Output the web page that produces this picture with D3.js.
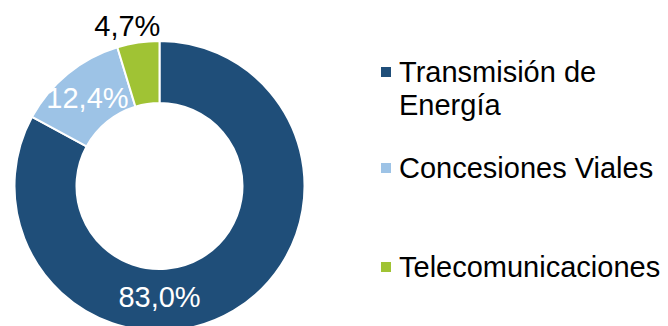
<!DOCTYPE html>
<html>
<head>
<meta charset="utf-8">
<script src="https://cdn.jsdelivr.net/npm/d3@7/dist/d3.min.js"></script>
<style>
  html, body { margin: 0; padding: 0; background: #fff; }
  svg { display: block; }
  text { font-family: "Liberation Sans", Arial, sans-serif; }
</style>
</head>
<body>
<svg id="chart" width="668" height="326"></svg>
<script>
// Segment shares (%) by business line
const categories = ["Transmisión de Energía", "Concesiones Viales", "Telecomunicaciones"];
const legendLines = [["Transmisión de", "Energía"], ["Concesiones Viales"], ["Telecomunicaciones"]];
const values = [83.0, 12.4, 4.7];
const valueLabels = ["83,0%", "12,4%", "4,7%"];
const colors = ["#1F4E79", "#9DC3E6", "#A0C334"];

const svg = d3.select("#chart");
const cx = 159.5, cy = 186, outerR = 145, innerR = 83;
const fontSize = 29;

const pie = d3.pie().sort(null).value(d => d)(values);
const arc = d3.arc().innerRadius(innerR).outerRadius(outerR);

const g = svg.append("g").attr("transform", `translate(${cx},${cy})`);

g.selectAll("path.slice")
  .data(pie)
  .join("path")
  .attr("class", "slice")
  .attr("d", arc)
  .attr("fill", (d, i) => colors[i])
  .attr("stroke", "#fff")
  .attr("stroke-width", 2)
  .attr("stroke-linejoin", "miter");

// Label placement: angle (radians, clockwise from top) and radius for each slice label
function labelPos(d, i) {
  const mid = (d.startAngle + d.endAngle) / 2;
  if (i === 0) return { a: Math.PI, r: 111 };            // large slice: label at the bottom of the ring
  if (i === 1) return { a: mid, r: (innerR + outerR) / 2 }; // inside the ring at the centroid
  return { a: mid - 0.05, r: 164 };                         // small slice: label outside
}

g.selectAll("text.val")
  .data(pie)
  .join("text")
  .attr("class", "val")
  .each(function (d, i) {
    const p = labelPos(d, i);
    d3.select(this)
      .attr("x", Math.sin(p.a) * p.r)
      .attr("y", -Math.cos(p.a) * p.r)
      .attr("dy", "0.36em");
  })
  .attr("text-anchor", "middle")
  .attr("font-size", fontSize)
  .attr("fill", (d, i) => i === 2 ? "#000" : "#fff")
  .text((d, i) => valueLabels[i]);

// Legend
const legendX = 381, textX = 399;
const legendBaselines = [82, 178, 277];
const lineH = 33;

const lg = svg.append("g");
categories.forEach((c, i) => {
  const b = legendBaselines[i];
  lg.append("rect")
    .attr("x", legendX).attr("y", b - 15)
    .attr("width", 10).attr("height", 10)
    .attr("fill", colors[i]);
  const t = lg.append("text")
    .attr("x", textX).attr("y", b)
    .attr("font-size", fontSize)
    .attr("fill", "#000");
  legendLines[i].forEach((ln, j) => {
    t.append("tspan").attr("x", textX).attr("y", b + j * lineH).text(ln);
  });
});
</script>
</body>
</html>
